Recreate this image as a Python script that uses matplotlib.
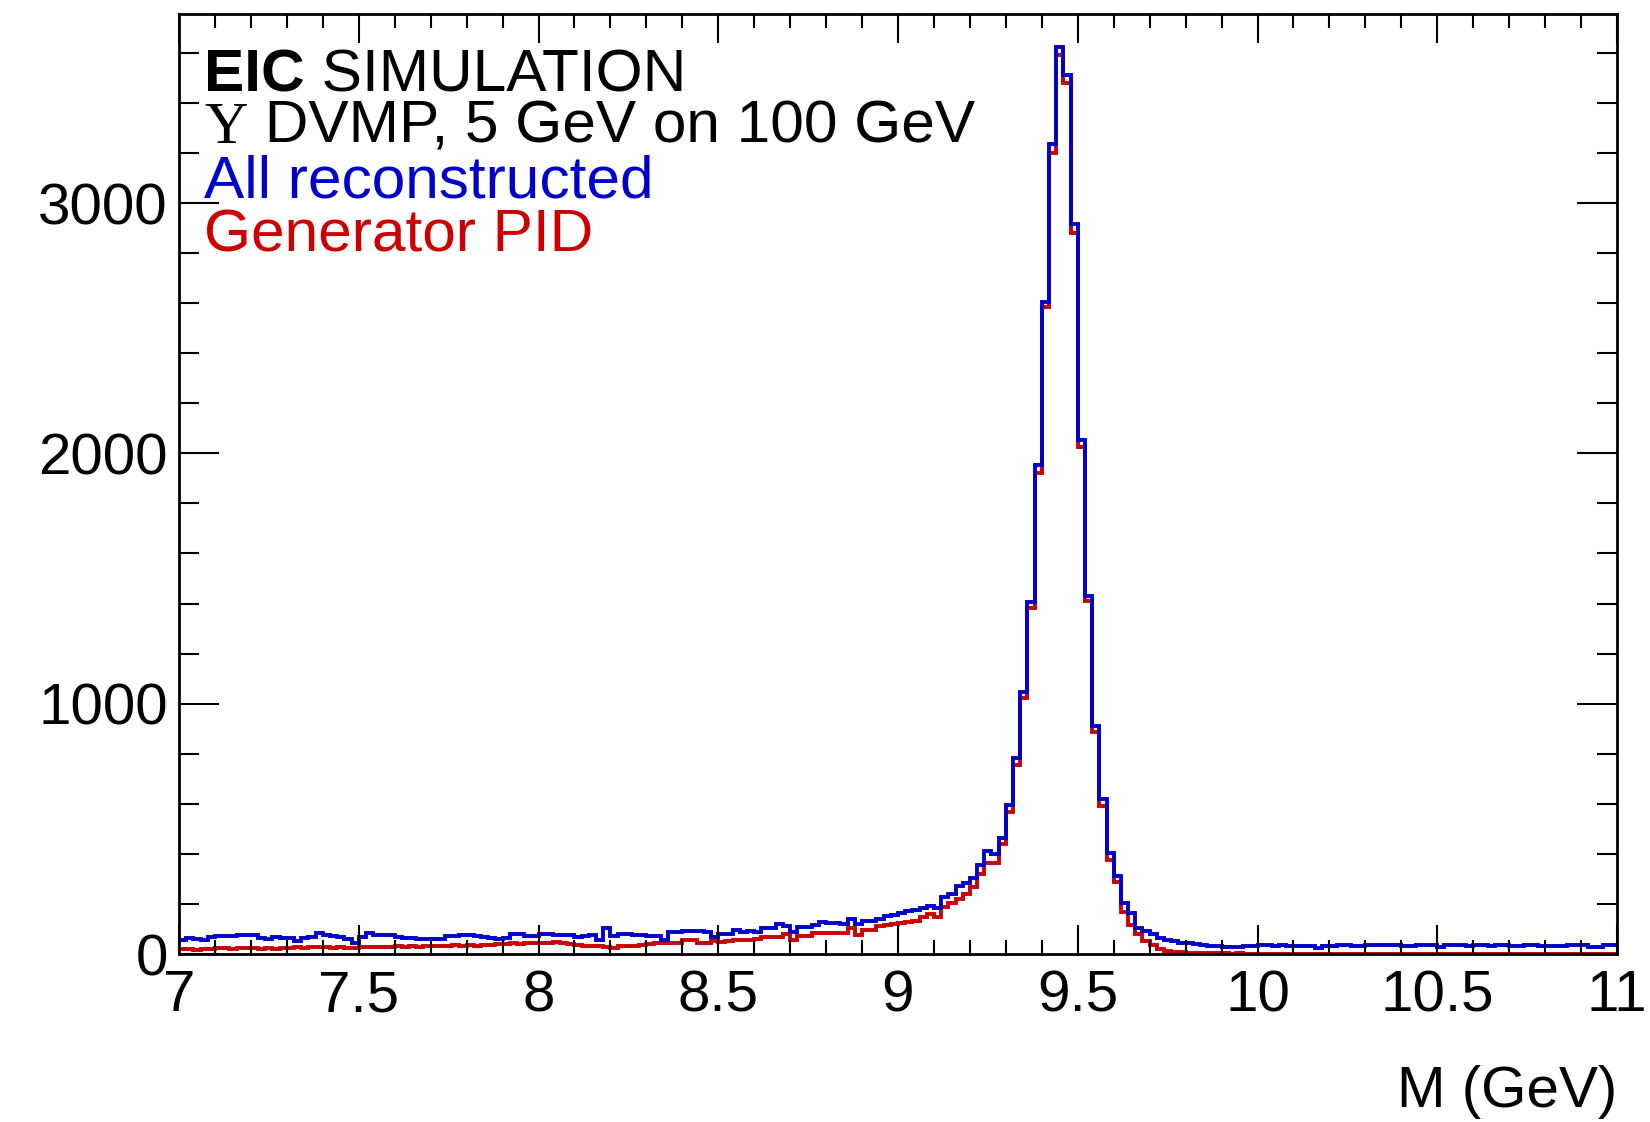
import numpy as np
import matplotlib
matplotlib.use("Agg")
import matplotlib.pyplot as plt
from matplotlib.ticker import MultipleLocator, FixedLocator

# ---------------- data ----------------
x_min, x_max, n_bins = 7.0, 11.0, 200

all_reco = [
    54, 63, 58, 56, 68, 72, 70, 73, 76, 74,
    77, 63, 60, 69, 65, 62, 52, 63, 69, 83,
    74, 70, 68, 60, 43, 66, 83, 77, 75, 76,
    69, 64, 62, 60, 61, 59, 61, 72, 71, 76,
    75, 70, 68, 63, 60, 64, 80, 79, 72, 73,
    81, 79, 76, 75, 77, 69, 70, 76, 56, 103,
    72, 80, 79, 76, 77, 72, 73, 56, 89, 88,
    91, 92, 93, 86, 67, 80, 81, 96, 89, 90,
    88, 103, 104, 120, 110, 89, 106, 107, 115, 128,
    125, 124, 118, 141, 120, 132, 133, 138, 150, 155,
    163, 172, 176, 185, 190, 182, 228, 238, 272, 283,
    303, 356, 413, 400, 462, 595, 784, 1048, 1406, 1954,
    2605, 3236, 3625, 3512, 2916, 2054, 1430, 911, 618, 402,
    311, 202, 165, 105, 92, 78, 64, 55, 52, 45,
    42, 40, 36, 33, 32, 26, 27, 28, 31, 33,
    34, 36, 33, 35, 30, 32, 33, 31, 25, 33,
    32, 35, 34, 31, 33, 36, 35, 34, 37, 36,
    30, 31, 36, 37, 35, 26, 36, 34, 35, 33,
    36, 35, 33, 34, 35, 32, 33, 34, 35, 33,
    30, 31, 33, 35, 34, 36, 28, 29, 37, 34,
]

generator_pid = [
    18, 20, 17, 21, 19, 22, 24, 21, 23, 22,
    24, 21, 23, 20, 25, 22, 27, 25, 28, 26,
    27, 24, 26, 23, 25, 28, 27, 29, 26, 28,
    30, 29, 31, 28, 32, 30, 33, 31, 34, 33,
    35, 33, 36, 34, 38, 40, 43, 41, 44, 42,
    45, 43, 46, 44, 38, 36, 33, 30, 31, 29,
    23, 32, 33, 31, 34, 41, 43, 42, 45, 44,
    56, 55, 44, 42, 50, 49, 51, 56, 55, 57,
    58, 66, 67, 68, 80, 56, 72, 71, 82, 84,
    83, 85, 82, 103, 76, 96, 97, 112, 115, 118,
    125, 126, 133, 146, 160, 146, 186, 205, 218, 238,
    266, 320, 365, 365, 440, 569, 756, 1021, 1382, 1922,
    2585, 3200, 3590, 3480, 2880, 2025, 1410, 888, 591, 375,
    286, 169, 114, 80, 52, 34, 21, 12, 8, 6,
    5, 4, 3, 3, 2, 2, 1, 2, 1, 0,
    1, 0, 1, 1, 0, 0, 1, 0, 0, 1,
    0, 0, 1, 0, 0, 0, 1, 0, 0, 0,
    1, 0, 0, 0, 0, 1, 0, 0, 0, 0,
    0, 0, 1, 0, 0, 0, 0, 0, 1, 0,
    0, 0, 0, 0, 0, 0, 0, 0, 0, 0,
]

x_ticks = [7, 7.5, 8, 8.5, 9, 9.5, 10, 10.5, 11]
x_tick_labels = ["7", "7.5", "8", "8.5", "9", "9.5", "10", "10.5", "11"]
y_ticks = [0, 1000, 2000, 3000]
y_tick_labels = ["0", "1000", "2000", "3000"]

BLUE = "#0000CC"
RED = "#CC0000"
FONT = "Liberation Sans"
FS = 42
FS_TXT = 43.5

# ---------------- figure ----------------
W, H = 1650, 1122
fig = plt.figure(figsize=(W / 100, H / 100), dpi=100)
L, R, T, B = 179, 1617, 14, 954
ax = fig.add_axes([L / W, 1 - B / H, (R - L) / W, (B - T) / H])

edges = np.linspace(x_min, x_max, n_bins + 1)
ax.stairs(generator_pid, edges, baseline=None, color=RED, linewidth=2.8)
ax.stairs(all_reco, edges, baseline=None, color=BLUE, linewidth=2.8)

ax.set_xlim(x_min, x_max)
ax.set_ylim(0, 3755)

ax.xaxis.set_major_locator(FixedLocator(x_ticks))
ax.set_xticklabels(x_tick_labels)
ax.xaxis.set_minor_locator(MultipleLocator(0.1))
ax.yaxis.set_major_locator(FixedLocator(y_ticks))
ax.set_yticklabels(y_tick_labels)
ax.yaxis.set_minor_locator(MultipleLocator(200))

ax.tick_params(axis="both", which="both", direction="in", top=True, right=True,
               width=1.5, color="black")
ax.tick_params(axis="x", which="major", length=21, pad=11)
ax.tick_params(axis="x", which="minor", length=10)
ax.tick_params(axis="y", which="major", length=29, pad=8)
ax.tick_params(axis="y", which="minor", length=14.5)
for lab in ax.get_xticklabels() + ax.get_yticklabels():
    lab.set_fontfamily(FONT)
    lab.set_fontsize(FS)
for sp in ax.spines.values():
    sp.set_linewidth(2.0)

# x-axis title
ax.text(1.0, (B - 1107) / (B - T), "M (GeV)", transform=ax.transAxes,
        ha="right", va="baseline", fontsize=FS, fontfamily=FONT)

# ---------------- text block ----------------
x0 = (204 - L) / (R - L)
def yb(py):
    return (B - py) / (B - T)

fig.canvas.draw()
renderer = fig.canvas.get_renderer()
inv = ax.transAxes.inverted()

def after(txt_obj):
    bb = txt_obj.get_window_extent(renderer=renderer)
    return inv.transform((bb.x1, bb.y0))[0]

t_eic = ax.text(x0, yb(92), "EIC", transform=ax.transAxes, ha="left", va="baseline",
                fontsize=FS_TXT, fontfamily=FONT, fontweight="bold")
ax.text(after(t_eic), yb(92), " SIMULATION", transform=ax.transAxes, ha="left",
        va="baseline", fontsize=FS_TXT, fontfamily=FONT)

t_ups = ax.text(x0, yb(143), "\u03a5", transform=ax.transAxes, ha="left", va="baseline",
                fontsize=FS_TXT, fontfamily="Liberation Serif")
ax.text(after(t_ups), yb(143), " DVMP, 5 GeV on 100 GeV", transform=ax.transAxes,
        ha="left", va="baseline", fontsize=FS_TXT, fontfamily=FONT)

ax.text(x0, yb(198), "All reconstructed", transform=ax.transAxes, ha="left",
        va="baseline", fontsize=FS_TXT, fontfamily=FONT, color=BLUE)
ax.text(x0, yb(252), "Generator PID", transform=ax.transAxes, ha="left",
        va="baseline", fontsize=FS_TXT, fontfamily=FONT, color=RED)

fig.savefig("out.png", dpi=100)
